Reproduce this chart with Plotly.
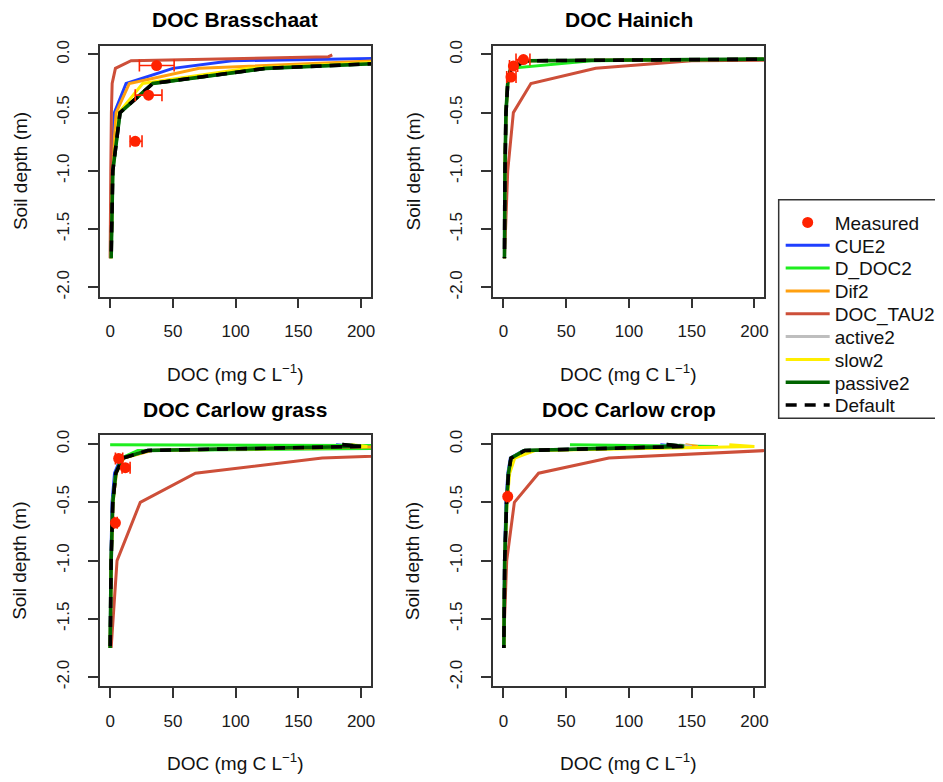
import plotly.graph_objects as go

FONT = "Liberation Sans, Arial, Helvetica, sans-serif"

# ---------------- data ----------------
depth = [-0.005, -0.02, -0.055, -0.12, -0.25, -0.5, -1.0, -1.75]

series_names = ["CUE2", "D_DOC2", "Dif2", "DOC_TAU2", "active2", "slow2", "passive2", "Default"]
panel_titles = ["DOC Brasschaat", "DOC Hainich", "DOC Carlow grass", "DOC Carlow crop"]

# Brasschaat
bra_CUE2 = [280, 289, 97, 50, 12.7, 3.4, 1.2, 0.5]
bra_D_DOC2 = [310, 330, 264, 124, 34, 7.9, 2.1, 0.8]
bra_Dif2 = [250, 270, 215, 71, 15.3, 4.8, 1.5, 0.5]
bra_DOC_TAU2 = [177, 174, 16.7, 4.2, 1.6, 1.0, 0.5, 0.0]
bra_active2 = [310, 330, 264, 124, 34, 7.9, 2.1, 0.8]
bra_slow2 = [290, 310, 240, 110, 26, 7.0, 2.0, 0.8]
bra_passive2 = [310, 330, 264, 124, 34, 7.9, 2.1, 0.8]
bra_Default = [310, 330, 264, 124, 34, 7.9, 2.1, 0.8]
bra_meas_x = [37, 30.6, 20]
bra_meas_y = [-0.096, -0.35, -0.746]
bra_meas_lo = [23.3, 20, 15.9]
bra_meas_hi = [51, 41.3, 25.4]

# Hainich
hai_CUE2 = [470, 490, 17, 5.8, 3.3, 2.0, 1.2, 0.8]
hai_D_DOC2 = [420, 450, 70, 5.5, 3.2, 2.0, 1.2, 0.8]
hai_Dif2 = [475, 495, 17.5, 6.0, 3.4, 2.0, 1.2, 0.8]
hai_DOC_TAU2 = [560, 600, 150, 73.5, 21.9, 7.9, 3.4, 0.8]
hai_active2 = [480, 500, 18, 6, 3.4, 2.0, 1.2, 0.8]
hai_slow2 = [480, 500, 18, 6, 3.4, 2.0, 1.2, 0.8]
hai_passive2 = [480, 500, 18, 6, 3.4, 2.0, 1.2, 0.8]
hai_Default = [480, 500, 18, 6, 3.4, 2.0, 1.2, 0.8]
hai_meas_x = [15.9, 7.9, 6.0]
hai_meas_y = [-0.045, -0.1, -0.195]
hai_meas_lo = [10, 4.8, 2.6]
hai_meas_hi = [21.1, 11.3, 10]

# Carlow grass
gra_CUE2 = [180, 195, 27, 8.5, 3.5, 1.5, 0.6, 0]
gra_D_DOC2 = [0, 400, 22, 9, 4.5, 2.1, 0.8, 0]
gra_Dif2 = [225, 240, 33, 11, 5, 2.3, 0.9, 0]
gra_DOC_TAU2 = [480, 500, 330, 169, 68, 24, 5.5, 0.8]
gra_active2 = [190, 203, 29, 10, 4.5, 2.1, 0.8, 0]
gra_slow2 = [192, 205, 31, 10.5, 4.6, 2.1, 0.8, 0]
gra_passive2 = [185, 200, 30, 10, 4.5, 2.1, 0.8, 0]
gra_Default = [185, 200, 30, 10, 4.5, 2.1, 0.8, 0]
gra_meas_x = [6.8, 12.1, 4.2]
gra_meas_y = [-0.123, -0.203, -0.676]
gra_meas_lo = [4.2, 9.5, 3.4]
gra_meas_hi = [10, 15.9, 5.6]

# Carlow crop
cro_CUE2 = [125, 140, 16, 5.5, 3.5, 2.0, 0.8, 0.3]
cro_D_DOC2 = [53, 171, 16, 6, 4, 2.5, 1, 0.3]
cro_Dif2 = [145, 155, 18, 6.5, 4, 2.5, 1, 0.3]
cro_DOC_TAU2 = [380, 400, 210, 84, 28, 8.7, 2.6, 0]
cro_active2 = [140, 150, 17, 6, 4, 2.5, 1, 0.3]
cro_slow2 = [180, 200, 25, 9, 5, 2.8, 1, 0.3]
cro_passive2 = [130, 144, 17, 6, 4, 2.5, 1, 0.3]
cro_Default = [130, 144, 17, 6, 4, 2.5, 1, 0.3]
cro_meas_x = [3.4]
cro_meas_y = [-0.45]
cro_meas_lo = [2.4]
cro_meas_hi = [4.4]

x_ticks = [0, 50, 100, 150, 200]
y_ticks = [0.0, -0.5, -1.0, -1.5, -2.0]
y_ticklabels = ["0.0", "-0.5", "-1.0", "-1.5", "-2.0"]

# ---------------- styling ----------------
colors = {
    "CUE2": "#1f3fff",
    "D_DOC2": "#1fee1f",
    "Dif2": "#ffa010",
    "DOC_TAU2": "#cd4f39",
    "active2": "#bebebe",
    "slow2": "#ffee00",
    "passive2": "#006400",
    "Default": "#000000",
}
meas_color = "#ff2200"

panels = [
    dict(series=[bra_CUE2, bra_D_DOC2, bra_Dif2, bra_DOC_TAU2, bra_active2, bra_slow2, bra_passive2, bra_Default],
         mx=bra_meas_x, my=bra_meas_y, lo=bra_meas_lo, hi=bra_meas_hi),
    dict(series=[hai_CUE2, hai_D_DOC2, hai_Dif2, hai_DOC_TAU2, hai_active2, hai_slow2, hai_passive2, hai_Default],
         mx=hai_meas_x, my=hai_meas_y, lo=hai_meas_lo, hi=hai_meas_hi),
    dict(series=[gra_CUE2, gra_D_DOC2, gra_Dif2, gra_DOC_TAU2, gra_active2, gra_slow2, gra_passive2, gra_Default],
         mx=gra_meas_x, my=gra_meas_y, lo=gra_meas_lo, hi=gra_meas_hi),
    dict(series=[cro_CUE2, cro_D_DOC2, cro_Dif2, cro_DOC_TAU2, cro_active2, cro_slow2, cro_passive2, cro_Default],
         mx=cro_meas_x, my=cro_meas_y, lo=cro_meas_lo, hi=cro_meas_hi),
]

# page has an 8px body margin: work in page pixels and convert
OFF = 8
W, H = 935, 774


def fx(px):
    return (px - OFF) / W


def fy(py):
    return 1 - (py - OFF) / H


# plot boxes in page pixels: (left, right, top, bottom)
boxes = [(100, 372.7, 40, 294), (495, 767.7, 40, 294),
         (100, 372.7, 434.3, 688.3), (495, 767.7, 434.3, 688.3)]

# legend entry order and page y of each entry
legend_order = ["Measured"] + series_names
legend_y0, legend_dy = 219, 23.1

fig = go.Figure()


def legend_id(name):
    k = legend_order.index(name)
    return "legend" if k == 0 else "legend" + str(k + 1)


for i, p in enumerate(panels):
    sfx = "" if i == 0 else str(i + 1)
    xa, ya = "x" + sfx, "y" + sfx
    for j, name in enumerate(series_names):
        is_def = name == "Default"
        fig.add_trace(go.Scatter(
            x=p["series"][j], y=depth, mode="lines", name=name,
            legendgroup=name, showlegend=(i == 0), legend=legend_id(name),
            line=dict(color=colors[name], width=3.6 if name in ("Default", "passive2") else 3,
                      dash="11px,8px" if is_def else "solid"),
            xaxis=xa, yaxis=ya, hoverinfo="skip",
        ))
    fig.add_trace(go.Scatter(
        x=p["mx"], y=p["my"], mode="markers", name="Measured",
        legendgroup="Measured", showlegend=(i == 0), legend=legend_id("Measured"),
        marker=dict(color=meas_color, size=11, symbol="circle"),
        error_x=dict(type="data", symmetric=False,
                     array=[h - x for h, x in zip(p["hi"], p["mx"])],
                     arrayminus=[x - l for l, x in zip(p["lo"], p["mx"])],
                     color=meas_color, thickness=1.6, width=6),
        xaxis=xa, yaxis=ya, hoverinfo="skip",
    ))

axis_common = dict(showline=True, mirror=True, linecolor="#333333", linewidth=1.5,
                   ticks="outside", ticklen=10, tickwidth=1.5, tickcolor="#333333",
                   showgrid=False, zeroline=False,
                   tickfont=dict(family=FONT, size=17, color="#1a1a1a"))

layout = dict(width=W, height=H, margin=dict(l=0, r=0, t=0, b=0), autosize=False,
              plot_bgcolor="white", paper_bgcolor="white",
              font=dict(family=FONT, color="#111111"))
annotations = []
for i, (l, r, t, b) in enumerate(boxes):
    sfx = "" if i == 0 else str(i + 1)
    layout["xaxis" + sfx] = dict(axis_common, domain=[fx(l), fx(r)], range=[-8.4, 208],
                                 tickvals=x_ticks, anchor="y" + sfx, ticklabelstandoff=8)
    layout["yaxis" + sfx] = dict(axis_common, domain=[fy(b), fy(t)], range=[-2.08, 0.075],
                                 tickvals=y_ticks, ticktext=y_ticklabels, tickangle=-90,
                                 anchor="x" + sfx, ticklabelstandoff=12)
    cx = fx((l + r) / 2)
    annotations.append(dict(text="<b>" + panel_titles[i] + "</b>", x=cx, y=fy(t - 26.5),
                            xref="paper", yref="paper", showarrow=False, xanchor="center",
                            yanchor="middle", font=dict(family=FONT, size=21, color="black")))
    annotations.append(dict(text="DOC (mg C L<sup>\u22121</sup>)", x=cx, y=fy(b + 77),
                            xref="paper", yref="paper", showarrow=False, xanchor="center",
                            yanchor="middle", font=dict(family=FONT, size=19, color="#111111")))
    annotations.append(dict(text="Soil depth (m)", x=fx(l - 80), y=fy((t + b) / 2),
                            xref="paper", yref="paper", showarrow=False, xanchor="center",
                            yanchor="middle", textangle=-90,
                            font=dict(family=FONT, size=19, color="#111111")))
layout["annotations"] = annotations

for k, name in enumerate(legend_order):
    layout[legend_id(name)] = dict(
        x=fx(784), y=fy(legend_y0 + k * legend_dy), xanchor="left", yanchor="middle",
        bgcolor="rgba(0,0,0,0)", borderwidth=0, itemwidth=44,
        font=dict(family=FONT, size=19, color="#111111"))

layout["shapes"] = [dict(type="rect", xref="paper", yref="paper",
                         x0=fx(782), x1=1.02, y0=fy(417), y1=fy(196),
                         line=dict(color="#333333", width=1.5))]
fig.update_layout(**layout)
fig.write_html("out.html")
